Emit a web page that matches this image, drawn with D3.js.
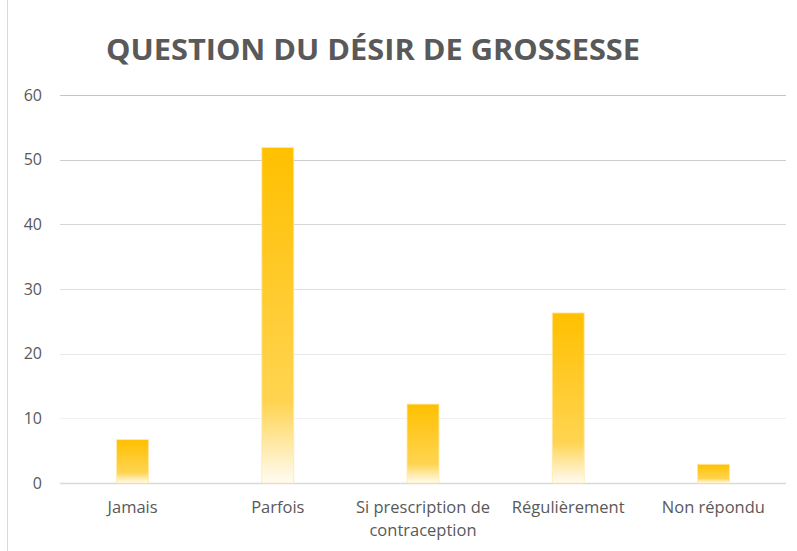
<!DOCTYPE html>
<html><head><meta charset="utf-8">
<script src="https://cdn.jsdelivr.net/npm/d3@7"></script>
<style>html,body{margin:0;padding:0;background:#fff;}svg{display:block;}</style>
</head><body>
<script>
const categories = ["Jamais", "Parfois", "Si prescription de|contraception", "Régulièrement", "Non répondu"];
const values = [6.7, 51.9, 12.2, 26.3, 2.9];
const yTicks = [0, 10, 20, 30, 40, 50, 60];
const title = "QUESTION DU DÉSIR DE GROSSESSE";

const W = 797, H = 551;
const m = {left: 60, right: 11, top: 95, bottom: 68};
const svg = d3.select("body").append("svg").attr("width", W).attr("height", H);

const defs = svg.append("defs");
const grad = defs.append("linearGradient").attr("id", "barGrad")
  .attr("x1", 0).attr("y1", 0).attr("x2", 0).attr("y2", 1);
grad.append("stop").attr("offset", "0%").attr("stop-color", "#FFC000");
grad.append("stop").attr("offset", "76%").attr("stop-color", "#FFD451");
grad.append("stop").attr("offset", "100%").attr("stop-color", "#FFFCF4");

// left border
svg.append("line").attr("x1", 7.5).attr("x2", 7.5).attr("y1", 0).attr("y2", H)
  .attr("stroke", "#d9d9d9").attr("stroke-width", 1);

const x = d3.scaleBand().domain(categories).range([m.left, W - m.right])
  .paddingInner(0.78).paddingOuter(0.39);
const y = d3.scaleLinear().domain([0, 60]).range([H - m.bottom, m.top]);

const gridColor = d3.scaleLinear().domain([10, 60]).range(["#f1f1f1", "#c4c4c4"]);

// gridlines
svg.append("g").selectAll("line").data(yTicks).join("line")
  .attr("x1", m.left).attr("x2", W - m.right)
  .attr("y1", d => Math.round(y(d)) + 0.5).attr("y2", d => Math.round(y(d)) + 0.5)
  .attr("stroke", d => d === 0 ? "#d9d9d9" : gridColor(d))
  .attr("stroke-width", d => d === 0 ? 1.5 : 1.2);

// y axis labels
const yAxis = d3.axisLeft(y).tickValues(yTicks).tickSize(0).tickPadding(0);
const gy = svg.append("g").attr("transform", `translate(42,0)`).call(yAxis);
gy.select(".domain").remove();
gy.selectAll("text").attr("font-family", "'Open Sans', sans-serif").attr("font-size", 16)
  .attr("fill", "#595959");

// bars
svg.append("g").selectAll("rect").data(values).join("rect")
  .attr("x", (d, i) => x(categories[i]))
  .attr("width", x.bandwidth())
  .attr("y", d => y(d))
  .attr("height", d => y(0) - y(d))
  .attr("fill", "url(#barGrad)")
  .attr("stroke", "#FFE9A8").attr("stroke-width", 0.8);

// x axis labels
const xAxis = d3.axisBottom(x).tickSize(0).tickPadding(0).tickFormat(() => "");
const gx = svg.append("g").attr("transform", `translate(0,${y(0)})`).call(xAxis);
gx.select(".domain").remove();
gx.selectAll(".tick").each(function(d) {
  const t = d3.select(this).append("text")
    .attr("text-anchor", "middle")
    .attr("font-family", "'Open Sans', sans-serif").attr("font-size", 16.5)
    .attr("fill", "#595959");
  d.split("|").forEach((ln, k) => {
    t.append("tspan").attr("x", 0).attr("y", 30 + k * 23).text(ln);
  });
});

// title
svg.append("text").attr("x", 106).attr("y", 60)
  .attr("font-family", "'Open Sans', sans-serif").attr("font-weight", "bold")
  .attr("font-size", 28).attr("fill", "#595959")
  .attr("textLength", 534).attr("lengthAdjust", "spacingAndGlyphs")
  .text(title);
</script>
</body></html>
